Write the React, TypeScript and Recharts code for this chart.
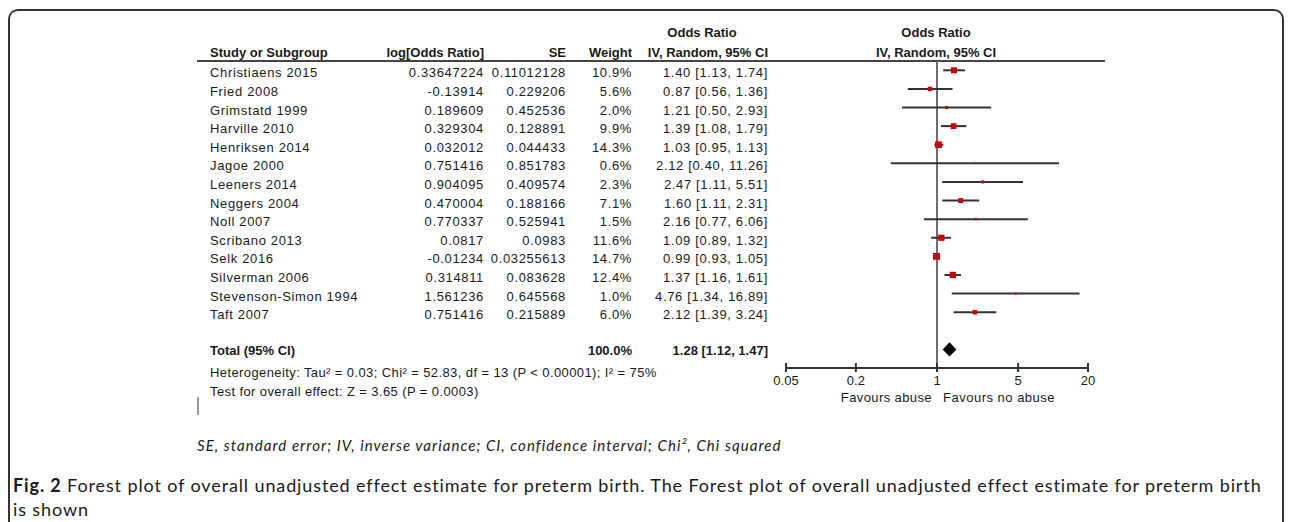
import React from "react";
import { ComposedChart, Scatter, ErrorBar, XAxis, YAxis, ReferenceLine } from "recharts";

// study rows
const studies = [
  "Christiaens 2015",
  "Fried 2008",
  "Grimstatd 1999",
  "Harville 2010",
  "Henriksen 2014",
  "Jagoe 2000",
  "Leeners 2014",
  "Neggers 2004",
  "Noll 2007",
  "Scribano 2013",
  "Selk 2016",
  "Silverman 2006",
  "Stevenson-Simon 1994",
  "Taft 2007",
];
const logOddsRatio = [
  0.33647224, -0.13914, 0.189609, 0.329304, 0.032012, 0.751416, 0.904095, 0.470004, 0.770337, 0.0817, -0.01234,
  0.314811, 1.561236, 0.751416,
];
const standardErrors = [
  0.11012128, 0.229206, 0.452536, 0.128891, 0.044433, 0.851783, 0.409574, 0.188166, 0.525941, 0.0983, 0.03255613,
  0.083628, 0.645568, 0.215889,
];
const weights = [10.9, 5.6, 2.0, 9.9, 14.3, 0.6, 2.3, 7.1, 1.5, 11.6, 14.7, 12.4, 1.0, 6.0];
const oddsRatios = [1.4, 0.87, 1.21, 1.39, 1.03, 2.12, 2.47, 1.6, 2.16, 1.09, 0.99, 1.37, 4.76, 2.12];
const ciLower = [1.13, 0.56, 0.5, 1.08, 0.95, 0.4, 1.11, 1.11, 0.77, 0.89, 0.93, 1.16, 1.34, 1.39];
const ciUpper = [1.74, 1.36, 2.93, 1.79, 1.13, 11.26, 5.51, 2.31, 6.06, 1.32, 1.05, 1.61, 16.89, 3.24];

// pooled result
const totalLabel = "Total (95% CI)";
const totalWeight = 100.0;
const totalOr = 1.28;
const totalLower = 1.12;
const totalUpper = 1.47;
const heterogeneity = "Heterogeneity: Tau² = 0.03; Chi² = 52.83, df = 13 (P < 0.00001); I² = 75%";
const overallEffect = "Test for overall effect: Z = 3.65 (P = 0.0003)";

const axisTicks = [0.05, 0.2, 1, 5, 20];
const favoursLeft = "Favours abuse";
const favoursRight = "Favours no abuse";

const footNote = "SE, standard error; IV, inverse variance; CI, confidence interval; Chi², Chi squared";
const captionTitle = "Fig. 2";
const captionLine1 =
  " Forest plot of overall unadjusted effect estimate for preterm birth. The Forest plot of overall unadjusted effect estimate for preterm birth";
const captionLine2 = "is shown";

const totalRow = studies.length + 1;
const rowTicks = [...studies.map((_, i) => i), totalRow];

const studyData = studies.map((name, i) => ({
  row: i,
  or: oddsRatios[i],
  lo: ciLower[i],
  hi: ciUpper[i],
  weight: weights[i],
}));

const DIAMOND_HALF = 0.38;
const diamondData = [
  { row: totalRow, or: totalLower },
  { row: totalRow - DIAMOND_HALF, or: totalOr },
  { row: totalRow, or: totalUpper },
  { row: totalRow + DIAMOND_HALF, or: totalOr },
];

const TEXT = "#1a1a1a";
const FONT = "'Liberation Sans', Arial, sans-serif";
const COL = { study: 210, logOr: 484, se: 566, weight: 632, ci: 768 };

const fmtCi = (or: number, lo: number, hi: number) => `${or.toFixed(2)} [${lo.toFixed(2)}, ${hi.toFixed(2)}]`;

const RowTick = (props: any) => {
  const { y, payload } = props;
  const i = payload.value;
  const base = y + 7;
  if (i === totalRow) {
    return (
      <g fontFamily={FONT} fontSize={13} fill={TEXT}>
        <text x={COL.study} y={base - 1} fontWeight="bold">{totalLabel}</text>
        <text x={COL.weight} y={base - 1} fontWeight="bold" textAnchor="end">{totalWeight.toFixed(1) + "%"}</text>
        <text x={COL.ci} y={base - 1} fontWeight="bold" textAnchor="end">{fmtCi(totalOr, totalLower, totalUpper)}</text>
        <text x={COL.study} y={y + 28} letterSpacing={0.4}>{heterogeneity}</text>
        <text x={COL.study} y={y + 47} letterSpacing={0.4}>{overallEffect}</text>
      </g>
    );
  }
  return (
    <g fontFamily={FONT} fontSize={13} fill={TEXT} letterSpacing={0.65}>
      <text x={COL.study} y={base}>{studies[i]}</text>
      <text x={COL.logOr} y={base} textAnchor="end">{String(logOddsRatio[i])}</text>
      <text x={COL.se} y={base} textAnchor="end">{String(standardErrors[i])}</text>
      <text x={COL.weight} y={base} textAnchor="end">{weights[i].toFixed(1) + "%"}</text>
      <text x={COL.ci} y={base} textAnchor="end">{fmtCi(oddsRatios[i], ciLower[i], ciUpper[i])}</text>
    </g>
  );
};

const AxisTick = (props: any) => {
  const { x, y, payload } = props;
  return (
    <g fontFamily={FONT} fontSize={13} fill={TEXT}>
      <line x1={x} x2={x} y1={y - 5} y2={y + 4} stroke="#333" strokeWidth={2} />
      <text x={x} y={y + 17} textAnchor="middle">{String(payload.value)}</text>
      {payload.value === 1 && (
        <>
          <text x={x - 5} y={y + 33.5} textAnchor="end" letterSpacing={0.4}>{favoursLeft}</text>
          <text x={x + 6} y={y + 33.5} letterSpacing={0.5}>{favoursRight}</text>
        </>
      )}
    </g>
  );
};

const WeightSquare = (props: any) => {
  const { cx, cy, payload } = props;
  const s = 1.7 * Math.sqrt(payload.weight) + 0.4;
  return <rect x={cx - s / 2} y={cy - s / 2} width={s} height={s} fill="#cc0000" />;
};

const Diamond = (props: any) => {
  const pts = (props.points || []).map((p: any) => `${p.x},${p.y}`).join(" ");
  return <polygon points={pts} fill="#000" stroke="none" />;
};

const Header = () => (
  <svg width={1292} height={522} style={{ position: "absolute", left: 0, top: 0 }}>
    <g fontFamily={FONT} fontSize={13} fontWeight="bold" fill={TEXT}>
      <text x={COL.study} y={56.5}>Study or Subgroup</text>
      <text x={COL.logOr} y={56.5} textAnchor="end">log[Odds Ratio]</text>
      <text x={COL.se} y={56.5} textAnchor="end">SE</text>
      <text x={COL.weight} y={56.5} textAnchor="end">Weight</text>
      <text x={702} y={37} textAnchor="middle">Odds Ratio</text>
      <text x={COL.ci} y={56.5} textAnchor="end">IV, Random, 95% CI</text>
      <text x={936} y={37} textAnchor="middle">Odds Ratio</text>
      <text x={936} y={56.5} textAnchor="middle">IV, Random, 95% CI</text>
    </g>
    <line x1={197} x2={1105} y1={61} y2={61} stroke="#444" strokeWidth={2} />
    <line x1={198} x2={198} y1={397} y2={415} stroke="#333" strokeWidth={1} />
  </svg>
);

export default function App() {
  return (
    <div
      style={{
        position: "fixed",
        left: 0,
        top: 0,
        width: 1292,
        height: 522,
        overflow: "hidden",
        background: "#fff",
      }}
    >
      <div
        style={{
          position: "absolute",
          left: 8,
          top: 9,
          width: 1276,
          height: 560,
          boxSizing: "border-box",
          border: "2px solid #333",
          borderBottom: "none",
          borderRadius: "10px 10px 0 0",
        }}
      />
      <Header />
      <div style={{ position: "absolute", left: 0, top: 0 }}>
        <ComposedChart width={1292} height={430} margin={{ top: 61, right: 204, bottom: 12, left: 785 }}>
          <XAxis
            type="number"
            dataKey="or"
            scale="log"
            domain={[0.05, 20]}
            ticks={axisTicks}
            interval={0}
            allowDataOverflow
            height={50}
            tickSize={0}
            tickMargin={0}
            tickLine={false}
            axisLine={{ stroke: "#333", strokeWidth: 2 }}
            tick={<AxisTick />}
          />
          <YAxis
            type="number"
            dataKey="row"
            domain={[-0.5, 16]}
            reversed
            allowDataOverflow
            ticks={rowTicks}
            interval={0}
            width={1}
            axisLine={false}
            tickLine={false}
            tick={<RowTick />}
          />
          <ReferenceLine x={1} stroke="#6e6e6e" strokeWidth={2} />
          <Scatter data={studyData} shape={<WeightSquare />} isAnimationActive={false}>
            <ErrorBar
              dataKey={(d: any) => [d.or - d.lo, d.hi - d.or]}
              direction="x"
              width={0}
              stroke="#333"
              strokeWidth={2}
              isAnimationActive={false}
            />
          </Scatter>
          <Scatter
            data={diamondData}
            line={Diamond}
            lineJointType="linear"
            shape={() => <g />}
            isAnimationActive={false}
          />
        </ComposedChart>
      </div>
      <div
        style={{
          position: "absolute",
          left: 197,
          top: 435,
          fontFamily: "Lato, 'Open Sans', sans-serif",
          fontStyle: "italic",
          fontSize: 15,
          letterSpacing: 1.05,
          lineHeight: "20px",
          color: TEXT,
          whiteSpace: "nowrap",
        }}
      >
        {footNote}
      </div>
      <div
        style={{
          position: "absolute",
          left: 13,
          top: 473,
          fontFamily: "Lato, 'Open Sans', sans-serif",
          fontSize: 18,
          letterSpacing: 0.88,
          lineHeight: "24px",
          color: TEXT,
          whiteSpace: "nowrap",
        }}
      >
        <div>
          <b>{captionTitle}</b>
          {captionLine1}
        </div>
        <div>{captionLine2}</div>
      </div>
    </div>
  );
}
